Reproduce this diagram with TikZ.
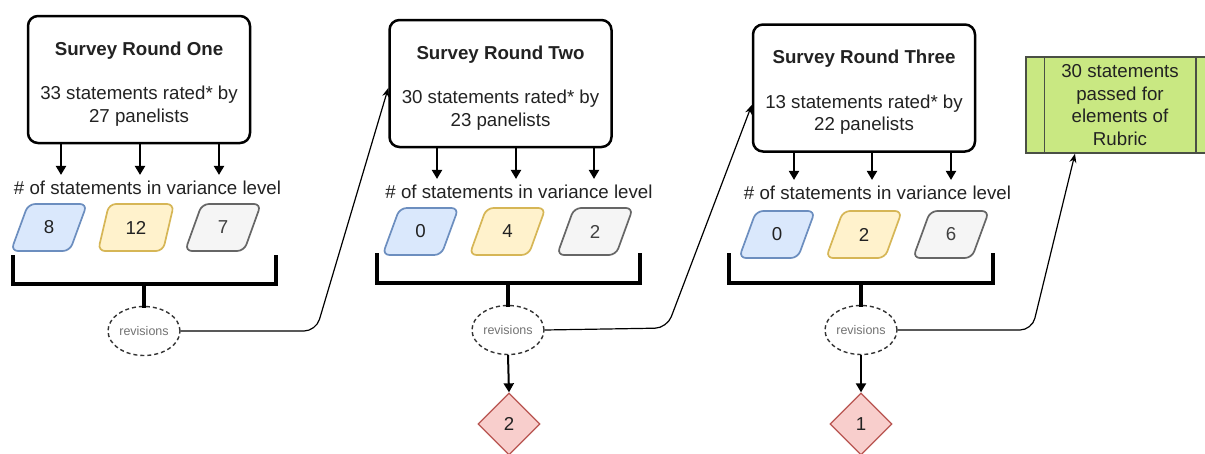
\documentclass[tikz,border=0pt]{standalone}
\usepackage{fontspec}
\setmainfont{Liberation Sans}
\usetikzlibrary{shapes.geometric,arrows.meta,calc}
\definecolor{txt}{HTML}{222222}
\definecolor{bluef}{HTML}{DAE8FC}\definecolor{bluel}{HTML}{6C8EBF}
\definecolor{yelf}{HTML}{FFF2CC}\definecolor{yell}{HTML}{D6B656}
\definecolor{grayf}{HTML}{F5F5F5}\definecolor{grayl}{HTML}{666666}
\definecolor{redf}{HTML}{F8CECC}\definecolor{redl}{HTML}{B85450}
\definecolor{grnf}{HTML}{C9E882}\definecolor{grnl}{HTML}{4A4F45}
\tikzset{
  mainfont/.style={font=\fontsize{18.7}{22.5}\selectfont, text=txt},
  roundbox/.style={draw=black, line width=2.5pt, rounded corners=10pt,
    minimum width=222pt, minimum height=127pt, inner sep=0pt},
  boxtext/.style={mainfont, align=center, inner sep=0pt},
  para/.style={mainfont, trapezium, trapezium left angle=72, trapezium right angle=108,
    trapezium stretches=true, minimum width=76pt, minimum height=47pt,
    rounded corners=7pt, line width=1.7pt, inner sep=0pt},
  pblue/.style={para, draw=bluel, fill=bluef},
  pyel/.style={para, draw=yell, fill=yelf},
  pgray/.style={para, draw=grayl, fill=grayf, text=black!75},
  lvl/.style={mainfont, inner xsep=0pt, inner ysep=6pt},
  downarr/.style={-{Triangle[length=9pt,width=10pt]}, line width=2pt},
  brk/.style={line width=3.4pt, line cap=rect},
  rev/.style={ellipse, draw=black!80, dash pattern=on 4pt off 3pt, line width=1.4pt,
    minimum width=72pt, minimum height=49pt, inner sep=0pt,
    font=\fontsize{12.5}{14}\selectfont, text=black!55},
  conn/.style={-{Stealth[length=9pt,width=7pt]}, line width=1.2pt, rounded corners=12pt},
  dia/.style={diamond, draw=redl, fill=redf, line width=1.3pt, minimum width=62pt,
    minimum height=62pt, inner sep=0pt, mainfont},
  procbox/.style={mainfont, draw=grnl, fill=grnf, line width=1.5pt, minimum width=188pt,
    minimum height=96pt, align=center, inner sep=0pt}
}
\begin{document}
\begin{tikzpicture}[x=1pt,y=-1pt]
\useasboundingbox (0,0) rectangle (1205,453);
\fill[white] (0,0) rectangle (1205,453);

% ---------- Round one ----------
\node[roundbox] (r1) at (139,79.5) {};
\node[boxtext] (t1) at (139,84) {\textbf{Survey Round One}\\[22pt]33 statements rated* by\\27 panelists};
\node[lvl] (l1) at (147.5,188) {\# of statements in variance level};
\foreach \x in {61,140,219} \draw[downarr] (r1.south -| \x,0) -- (l1.north -| \x,0);
\node[pblue] (p1a) at (49,227.5) {8};
\node[pyel]  (p1b) at (136,227.5) {12};
\node[pgray] (p1c) at (223,227.5) {7};
\node[rev] (e1) at (144,331) {revisions};
\coordinate (b1l) at (13,257);
\coordinate (b1r) at (276,257);
\draw[brk] (b1l) -- (b1l |- 0,284) -- (b1r |- 0,284) -- (b1r);
\draw[brk] (e1.north |- 0,284) -- (e1.north);

% ---------- Round two ----------
\node[roundbox] (r2) at (500.5,83.5) {};
\node[boxtext] (t2) at (500.5,88) {\textbf{Survey Round Two}\\[22pt]30 statements rated* by\\23 panelists};
\node[lvl] (l2) at (519,192) {\# of statements in variance level};
\foreach \x in {437,516,594} \draw[downarr] (r2.south -| \x,0) -- (l2.north -| \x,0);
\node[pblue] (p2a) at (420.5,231.5) {0};
\node[pyel]  (p2b) at (507.5,231.5) {4};
\node[pgray] (p2c) at (595,231.5) {2};
\node[rev] (e2) at (508,330) {revisions};
\coordinate (b2l) at (377,255);
\coordinate (b2r) at (640,255);
\draw[brk] (b2l) -- (b2l |- 0,283) -- (b2r |- 0,283) -- (b2r);
\draw[brk] (e2.north |- 0,283) -- (e2.north);
\node[dia] (d2) at (509,424) {2};
\draw[downarr] (e2.south) -- (d2.north);

% ---------- Round three ----------
\node[roundbox] (r3) at (864,88) {};
\node[boxtext] (t3) at (864,92.5) {\textbf{Survey Round Three}\\[22pt]13 statements rated* by\\22 panelists};
\node[lvl] (l3) at (877.5,193) {\# of statements in variance level};
\foreach \x in {794,872,951} \draw[downarr] (r3.south -| \x,0) -- (l3.north -| \x,0);
\node[pblue] (p3a) at (777,234.5) {0};
\node[pyel]  (p3b) at (864,234.5) {2};
\node[pgray] (p3c) at (951,234.5) {6};
\node[rev] (e3) at (861,330) {revisions};
\coordinate (b3l) at (729,255);
\coordinate (b3r) at (993,255);
\draw[brk] (b3l) -- (b3l |- 0,283) -- (b3r |- 0,283) -- (b3r);
\draw[brk] (e3.north |- 0,283) -- (e3.north);
\node[dia] (d3) at (861,424) {1};
\draw[downarr] (e3.south) -- (d3.north);

% ---------- Result ----------
\node[procbox] (g) at (1120,105) {30 statements\\passed for\\elements of\\Rubric};
\draw[grnl, line width=1.5pt] ([xshift=19pt]g.north west) -- ([xshift=19pt]g.south west);
\draw[grnl, line width=1.5pt] ([xshift=-19pt]g.north east) -- ([xshift=-19pt]g.south east);

% ---------- Connectors ----------
\draw[conn] (e1.east) -- (316,331) -- ([yshift=-4.5pt]r2.west);
\draw[conn] (e2.east) -- (667,328) -- ([yshift=-17pt]r3.west);
\draw[conn] (e3.east) -- (1032,330) -- ([xshift=-45pt]g.south);
\end{tikzpicture}
\end{document}
